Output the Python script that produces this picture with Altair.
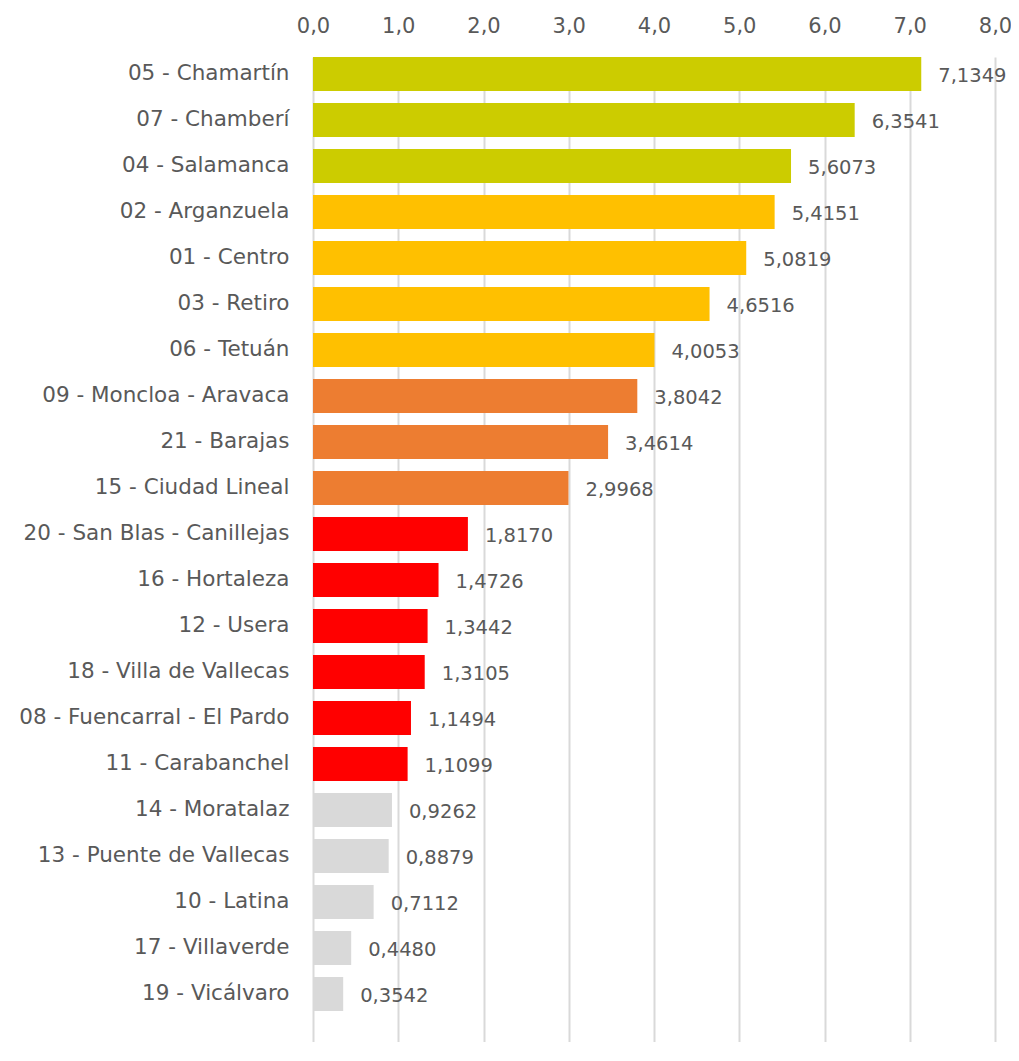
import altair as alt
import pandas as pd

districts = [
    "05 - Chamartín", "07 - Chamberí", "04 - Salamanca", "02 - Arganzuela",
    "01 - Centro", "03 - Retiro", "06 - Tetuán", "09 - Moncloa - Aravaca",
    "21 - Barajas", "15 - Ciudad Lineal", "20 - San Blas - Canillejas",
    "16 - Hortaleza", "12 - Usera", "18 - Villa de Vallecas",
    "08 - Fuencarral - El Pardo", "11 - Carabanchel", "14 - Moratalaz",
    "13 - Puente de Vallecas", "10 - Latina", "17 - Villaverde", "19 - Vicálvaro",
]
values = [
    7.1349, 6.3541, 5.6073, 5.4151, 5.0819, 4.6516, 4.0053, 3.8042, 3.4614,
    2.9968, 1.8170, 1.4726, 1.3442, 1.3105, 1.1494, 1.1099, 0.9262, 0.8879,
    0.7112, 0.4480, 0.3542,
]
groups = ["A"] * 3 + ["B"] * 4 + ["C"] * 3 + ["D"] * 6 + ["E"] * 5
group_names = ["A", "B", "C", "D", "E"]
group_colors = ["#CCCC00", "#FFC000", "#ED7D31", "#FF0000", "#D9D9D9"]
x_ticks = [0, 1, 2, 3, 4, 5, 6, 7, 8]

df = pd.DataFrame({
    "district": districts,
    "value": values,
    "group": groups,
    "label": [f"{v:.4f}".replace(".", ",") for v in values],
})

FONT = "DejaVu Sans"
TXT = "#595959"

y_enc = alt.Y(
    "district:N",
    sort=districts,
    scale=alt.Scale(paddingInner=0.26, paddingOuter=0.336, align=0),
    axis=alt.Axis(
        title=None, domain=False, ticks=False, labelPadding=24,
        labelFont=FONT, labelFontSize=21.5, labelColor=TXT, labelLimit=400,
    ),
)
x_enc = alt.X(
    "value:Q",
    scale=alt.Scale(domain=[0, 8], nice=False),
    axis=alt.Axis(
        orient="top", title=None, domain=False, ticks=False,
        values=x_ticks, labelFlush=False, labelOverlap=False,
        labelExpr="replace(format(datum.value, '.1f'), '.', ',')",
        labelPadding=21, labelFont=FONT, labelFontSize=21, labelColor=TXT,
        grid=True, gridColor="#D9D9D9", gridWidth=2,
    ),
)

bars = alt.Chart(df).mark_bar().encode(
    x=x_enc,
    y=y_enc,
    color=alt.Color("group:N", scale=alt.Scale(domain=group_names, range=group_colors), legend=None),
)
labels = alt.Chart(df).mark_text(
    align="left", baseline="middle", dx=17, dy=2, font=FONT, fontSize=19.5, color=TXT,
).encode(
    x=alt.X("value:Q"),
    y=alt.Y("district:N", sort=districts),
    text="label:N",
)

chart = (bars + labels).properties(
    width=682, height=985,
    autosize=alt.AutoSizeParams(type="none"),
    padding={"left": 305, "top": 49, "right": 16, "bottom": 0},
).configure_view(stroke=None)

chart.save("out.html", embed_options={"renderer": "svg", "actions": False})
